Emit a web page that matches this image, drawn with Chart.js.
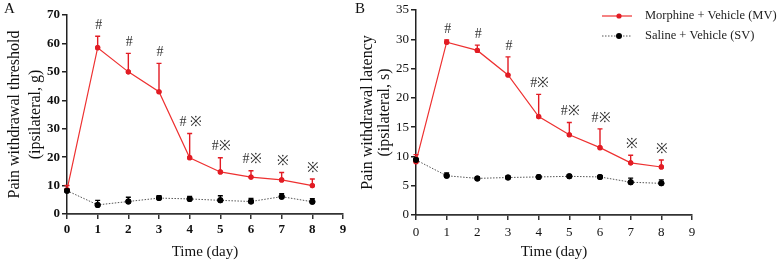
<!DOCTYPE html>
<html><head><meta charset="utf-8">
<script src="https://cdn.jsdelivr.net/npm/chart.js@4/dist/chart.umd.min.js"></script>
<style>
html,body{margin:0;padding:0;background:#fff;width:778px;height:264px;overflow:hidden;}
#ca{position:absolute;left:0;top:0;}
#cb{position:absolute;left:350px;top:0;}
.pl{position:absolute;font:15px "Liberation Serif";color:#111;line-height:16px;}
</style></head><body>
<canvas id="ca" width="350" height="264"></canvas>
<canvas id="cb" width="428" height="264"></canvas>
<div class="pl" style="left:4px;top:0px">A</div>
<div class="pl" style="left:355px;top:0px">B</div>
<script>
// ---- data ----
const days = [0, 1, 2, 3, 4, 5, 6, 7, 8];
const seriesLabels = ['Morphine + Vehicle (MV)', 'Saline + Vehicle (SV)'];

// Panel A: pain withdrawal threshold (g)
const thresholdMV   = [8.5, 58.5, 50.0, 43.0, 19.8, 14.8, 13.0, 12.0, 10.0];
const thresholdMVsd = [1.5, 4.0, 6.5, 10.0, 8.5, 5.0, 2.2, 2.6, 2.3];
const thresholdSV   = [8.2, 3.2, 4.4, 5.6, 5.3, 4.8, 4.4, 6.1, 4.3];
const thresholdSVsd = [0.5, 1.6, 1.5, 0.8, 0.9, 1.6, 1.1, 1.0, 1.1];
const thresholdMarks = ['', '#', '#', '#', '# \u203B', '#\u203B', '#\u203B', '\u203B', '\u203B'];

// Panel B: pain withdrawal latency (s)
const latencyMV   = [9.1, 29.5, 28.1, 23.9, 16.8, 13.7, 11.5, 8.9, 8.2];
const latencyMVsd = [1.2, 0.4, 0.9, 3.1, 3.8, 2.1, 3.2, 1.3, 1.2];
const latencySV   = [9.4, 6.7, 6.25, 6.4, 6.5, 6.6, 6.5, 5.6, 5.4];
const latencySVsd = [0.3, 0.5, 0.2, 0.2, 0.2, 0.3, 0.2, 0.7, 0.6];
const latencyMarks = ['', '#', '#', '#', '#\u203B', '#\u203B', '#\u203B', '\u203B', '\u203B'];

const xTicks = [0, 1, 2, 3, 4, 5, 6, 7, 8, 9];

// ---- styling ----
const SERIF = '"Liberation Serif", "Times New Roman", serif';
const RED = 'rgb(238,48,48)';
const RED_ERR = 'rgb(226,28,36)';

function pts(vals) { return vals.map((v, i) => ({ x: days[i], y: v })); }

function makeDatasets(mv, mvsd, sv, svsd, marks) {
  return [
    { label: seriesLabels[0], data: pts(mv), errUp: mvsd, marks: marks,
      borderColor: RED, borderWidth: 1.2, pointRadius: 2.6, pointBackgroundColor: RED_ERR,
      pointBorderWidth: 0, errColor: RED_ERR, tension: 0, clip: false, order: 0 },
    { label: seriesLabels[1], data: pts(sv), errUp: svsd,
      borderColor: '#555', borderWidth: 1, borderDash: [1.5, 1.5], pointRadius: 3,
      pointBackgroundColor: '#000', pointBorderWidth: 0, errColor: '#000', tension: 0,
      clip: false, order: 1 }
  ];
}

const errorBarPlugin = {
  id: 'errbars',
  afterDatasetsDraw(chart) {
    const ctx = chart.ctx, xs = chart.scales.x, ys = chart.scales.y;
    chart.data.datasets.forEach((ds) => {
      if (!ds.errUp) return;
      ctx.save();
      ctx.strokeStyle = ds.errColor; ctx.lineWidth = 1.4; ctx.setLineDash([]);
      ds.data.forEach((p, j) => {
        const x = xs.getPixelForValue(p.x);
        const y0 = ys.getPixelForValue(p.y);
        const y1 = ys.getPixelForValue(p.y + ds.errUp[j]);
        ctx.beginPath();
        ctx.moveTo(x, y0); ctx.lineTo(x, y1);
        ctx.moveTo(x - 2.5, y1); ctx.lineTo(x + 2.5, y1);
        ctx.stroke();
        if (ds.marks && ds.marks[j]) {
          ctx.fillStyle = '#333';
          ctx.font = '14px ' + SERIF;
          ctx.textAlign = 'center'; ctx.textBaseline = 'middle';
          ctx.fillText(ds.marks[j], x + 1, y1 - 11);
        }
      });
      ctx.fillStyle = ds.pointBackgroundColor;
      ds.data.forEach((p) => {
        ctx.beginPath();
        ctx.arc(xs.getPixelForValue(p.x), ys.getPixelForValue(p.y), ds.pointRadius, 0, Math.PI * 2);
        ctx.fill();
      });
      ctx.restore();
    });
  }
};

const legendPlugin = {
  id: 'customLegend',
  afterDraw(chart) {
    if (!chart.options.plugins.customLegend || !chart.options.plugins.customLegend.show) return;
    const ctx = chart.ctx;
    const rows = [16, 36];
    chart.data.datasets.forEach((ds, i) => {
      const y = rows[i];
      ctx.save();
      ctx.strokeStyle = ds.borderColor; ctx.lineWidth = ds.borderWidth;
      ctx.setLineDash(ds.borderDash || []);
      ctx.beginPath(); ctx.moveTo(252, y); ctx.lineTo(282, y); ctx.stroke();
      ctx.setLineDash([]);
      ctx.fillStyle = ds.pointBackgroundColor;
      ctx.beginPath(); ctx.arc(269, y, ds.pointRadius, 0, Math.PI * 2); ctx.fill();
      ctx.fillStyle = '#222';
      ctx.font = '12.5px ' + SERIF;
      ctx.textAlign = 'left'; ctx.textBaseline = 'middle';
      ctx.fillText(ds.label, 295, y);
      ctx.restore();
    });
  }
};

function makeChart(canvas, cfg) {
  const tickFont = { family: SERIF, size: 13, weight: cfg.bold ? 'bold' : 'normal' };
  return new Chart(canvas, {
    type: 'line',
    data: { datasets: cfg.datasets },
    plugins: [errorBarPlugin, legendPlugin],
    options: {
      responsive: false, animation: false,
      layout: { padding: cfg.padding },
      plugins: { legend: { display: false }, tooltip: { enabled: false },
                 customLegend: { show: !!cfg.legend } },
      scales: {
        x: {
          type: 'linear', min: 0, max: 9,
          afterBuildTicks(s) { s.ticks = xTicks.map(v => ({ value: v })); },
          afterFit(s) { s.height = cfg.xHeight; },
          ticks: { font: tickFont, color: '#111', padding: cfg.xPad, autoSkip: false },
          grid: { display: true, drawOnChartArea: false, drawTicks: true, tickLength: 5,
                  color: '#333', lineWidth: 1.5 },
          border: { display: true, color: '#333', width: 1.8 },
          title: { display: true, text: 'Time (day)', color: '#111',
                   font: { family: SERIF, size: 15, lineHeight: 1.2 },
                   padding: { top: 0, bottom: 3 } }
        },
        y: {
          type: 'linear', min: 0, max: cfg.yMax,
          afterBuildTicks(s) { s.ticks = cfg.yTicks.map(v => ({ value: v })); },
          afterFit(s) { s.width = cfg.yWidth; },
          ticks: { font: tickFont, color: '#111', padding: 2 },
          grid: { display: true, drawOnChartArea: false, drawTicks: true, tickLength: 5,
                  color: '#222', lineWidth: 1.5 },
          border: { display: true, color: '#222', width: 1.5 },
          title: { display: true, text: cfg.yTitle, color: '#111',
                   font: { family: SERIF, size: 16, lineHeight: cfg.yLine },
                   padding: { top: cfg.yTitlePad, bottom: 0 } }
        }
      }
    }
  });
}

const yTicksA = [0, 10, 20, 30, 40, 50, 60, 70];
const yTicksB = [0, 5, 10, 15, 20, 25, 30, 35];

makeChart(document.getElementById('ca'), {
  datasets: makeDatasets(thresholdMV, thresholdMVsd, thresholdSV, thresholdSVsd, thresholdMarks),
  bold: true, yMax: 70, yTicks: yTicksA,
  yTitle: ['Pain withdrawal threshold', '(ipsilateral, g)'], yLine: '21px', yTitlePad: 4.5,
  yWidth: 67, xHeight: 50, xPad: 3,
  padding: { top: 15, right: 7, left: 0, bottom: 0 }
});

makeChart(document.getElementById('cb'), {
  datasets: makeDatasets(latencyMV, latencyMVsd, latencySV, latencySVsd, latencyMarks),
  bold: false, yMax: 35, yTicks: yTicksB, legend: true,
  yTitle: ['Pain withdrawal latency', '(ipsilateral, s)'], yLine: '17px', yTitlePad: 9.5,
  yWidth: 66, xHeight: 49, xPad: 5,
  padding: { top: 10, right: 86, left: 0, bottom: 0 }
});
</script>
</body></html>
